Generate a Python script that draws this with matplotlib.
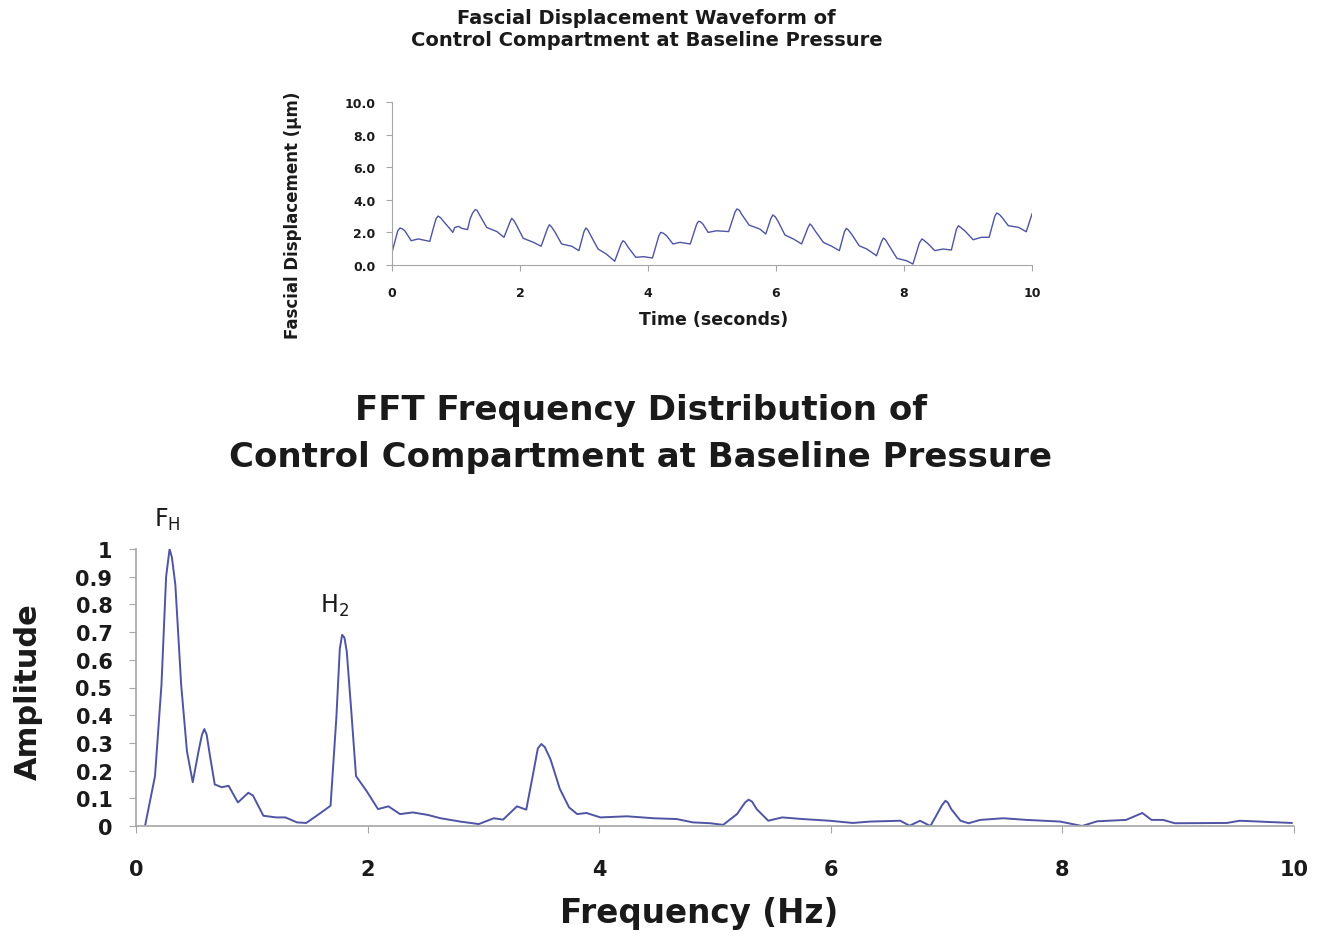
import numpy as np
import matplotlib
matplotlib.use('Agg')
import matplotlib.pyplot as plt

plt.rcParams['font.family'] = ['DejaVu Sans']

# 位移波形（时间 s, 位移 µm）
wave_t = [0.0, 0.09, 0.125, 0.16, 0.2, 0.3, 0.41, 0.59, 0.67, 0.69, 0.72, 0.76, 0.8, 0.91,
          0.95, 0.98, 1.04, 1.09, 1.18, 1.22, 1.26, 1.30, 1.33, 1.36, 1.48, 1.64, 1.75,
          1.84, 1.87, 1.90, 1.95, 2.05, 2.21, 2.33, 2.43, 2.46, 2.49, 2.55, 2.65, 2.81,
          2.92, 3.0, 3.03, 3.06, 3.12, 3.22, 3.35, 3.48, 3.58, 3.61, 3.64, 3.69, 3.81,
          3.93, 4.07, 4.17, 4.20, 4.24, 4.29, 4.39, 4.5, 4.66, 4.76, 4.79, 4.82, 4.86,
          4.94, 5.07, 5.26, 5.36, 5.39, 5.43, 5.46, 5.58, 5.75, 5.84, 5.92, 5.95, 5.99,
          6.04, 6.14, 6.27, 6.4, 6.50, 6.53, 6.56, 6.61, 6.74, 6.87, 6.99, 7.07, 7.1,
          7.13, 7.18, 7.3, 7.42, 7.57, 7.65, 7.68, 7.71, 7.76, 7.89, 8.04, 8.14, 8.24,
          8.28, 8.31, 8.38, 8.48, 8.61, 8.74, 8.82, 8.85, 8.88, 8.95, 9.08, 9.21, 9.33,
          9.42, 9.45, 9.49, 9.53, 9.63, 9.79, 9.91, 10.0]
wave_v = [0.78, 2.1, 2.27, 2.22, 2.1, 1.49, 1.6, 1.45, 2.6, 2.85, 3.0, 2.9, 2.7, 2.2,
          2.0, 2.3, 2.37, 2.25, 2.17, 2.82, 3.2, 3.4, 3.35, 3.13, 2.3, 2.05, 1.7,
          2.6, 2.86, 2.75, 2.41, 1.64, 1.39, 1.15, 2.25, 2.47, 2.35, 2.0, 1.29, 1.15,
          0.88, 2.05, 2.27, 2.15, 1.7, 0.98, 0.67, 0.23, 1.3, 1.49, 1.4, 1.09, 0.47,
          0.51, 0.43, 1.8, 2.0, 1.95, 1.8, 1.29, 1.39, 1.29, 2.5, 2.68, 2.65, 2.5,
          2.0, 2.1, 2.05, 3.25, 3.44, 3.35, 3.13, 2.45, 2.2, 1.9, 2.85, 3.07, 2.95,
          2.62, 1.84, 1.6, 1.29, 2.3, 2.52, 2.4, 2.1, 1.39, 1.15, 0.88, 2.05, 2.25,
          2.15, 1.9, 1.18, 0.98, 0.57, 1.45, 1.66, 1.55, 1.23, 0.41, 0.26, 0.06, 1.35,
          1.6, 1.52, 1.29, 0.88, 0.98, 0.92, 2.2, 2.41, 2.32, 2.1, 1.55, 1.7, 1.7,
          3.0, 3.19, 3.1, 2.93, 2.41, 2.31, 2.04, 3.13]

# FFT 频谱（频率 Hz, 幅值）
fft_f = [0.078, 0.164, 0.22, 0.26, 0.29, 0.31, 0.34, 0.39, 0.44, 0.49, 0.54, 0.57, 0.59,
         0.61, 0.64, 0.68, 0.74, 0.80, 0.88, 0.97, 1.01, 1.10, 1.21, 1.29, 1.39, 1.47,
         1.56, 1.68, 1.73, 1.76, 1.78, 1.80, 1.82, 1.86, 1.90, 1.99, 2.09, 2.18, 2.28,
         2.39, 2.52, 2.63, 2.80, 2.96, 3.09, 3.17, 3.29, 3.37, 3.43, 3.47, 3.50, 3.53,
         3.58, 3.66, 3.74, 3.81, 3.89, 4.01, 4.24, 4.47, 4.67, 4.81, 4.96, 5.07, 5.19,
         5.26, 5.29, 5.32, 5.36, 5.46, 5.58, 5.76, 5.99, 6.19, 6.34, 6.60, 6.68, 6.77,
         6.86, 6.91, 6.96, 6.99, 7.01, 7.04, 7.12, 7.19, 7.29, 7.49, 7.69, 7.98, 8.17,
         8.30, 8.55, 8.69, 8.77, 8.87, 8.97, 9.42, 9.53, 9.70, 9.98]
fft_a = [0.0, 0.18, 0.51, 0.9, 1.0, 0.97, 0.87, 0.51, 0.27, 0.158, 0.27, 0.33, 0.35,
         0.33, 0.25, 0.15, 0.14, 0.145, 0.085, 0.12, 0.11, 0.037, 0.031, 0.031, 0.013, 0.011,
         0.037, 0.073, 0.39, 0.64, 0.69, 0.68, 0.63, 0.41, 0.18, 0.127, 0.061, 0.071, 0.043,
         0.049, 0.04, 0.028, 0.016, 0.007, 0.028, 0.023, 0.071, 0.059, 0.19, 0.28, 0.296, 0.285,
         0.24, 0.134, 0.067, 0.043, 0.047, 0.031, 0.035, 0.028, 0.025, 0.013, 0.01, 0.004, 0.043,
         0.085, 0.095, 0.088, 0.061, 0.019, 0.031, 0.025, 0.019, 0.011, 0.016, 0.019, 0.001, 0.019,
         0.0, 0.037, 0.075, 0.091, 0.085, 0.061, 0.019, 0.01, 0.022, 0.028, 0.022, 0.016, 0.0,
         0.017, 0.022, 0.047, 0.022, 0.022, 0.01, 0.011, 0.019, 0.016, 0.011]

line_c = '#4f54a3'
axis_c = '#a6a6a6'
text_c = '#1a1a1a'

fig = plt.figure(figsize=(13.26, 9.37), dpi=100)

# 上图：位移波形
ax1 = fig.add_axes([392/1326, 1-266/937, 640/1326, 163/937])
ax1.plot(wave_t, wave_v, color=line_c, lw=1.0, solid_joinstyle='round')
ax1.set_xlim(0, 10)
ax1.set_ylim(0, 10)
ax1.set_xticks([0, 2, 4, 6, 8, 10])
ax1.set_yticks([0, 2, 4, 6, 8, 10])
ax1.set_yticklabels(['%.1f' % v for v in [0, 2, 4, 6, 8, 10]])
for s in ['top', 'right']:
    ax1.spines[s].set_visible(False)
for s in ['left', 'bottom']:
    ax1.spines[s].set_color(axis_c)
ax1.tick_params(axis='both', colors=axis_c, labelcolor=text_c, length=4, labelsize=9)
ax1.tick_params(axis='y', pad=8)
ax1.tick_params(axis='x', pad=11)
for lb in ax1.get_xticklabels() + ax1.get_yticklabels():
    lb.set_fontweight('bold')
ax1.set_xlabel('Time (seconds)', fontsize=12.5, fontweight='bold', color=text_c, va='baseline')
ax1.xaxis.set_label_coords(0.502, (266-325)/163)
ax1.set_ylabel('Fascial Displacement (µm)', fontsize=12, fontweight='bold', color=text_c,
               va='center')
ax1.yaxis.set_label_coords((293-392)/640, (266-215)/163)

fig.text(0.4876, 1-24/937, 'Fascial Displacement Waveform of', ha='center', va='baseline',
         fontsize=14, fontweight='bold', color=text_c)
fig.text(0.4876, 1-46/937, 'Control Compartment at Baseline Pressure', ha='center',
         va='baseline', fontsize=14, fontweight='bold', color=text_c)

# 下图：FFT 频谱
ax2 = fig.add_axes([136/1326, 1-827/937, 1158/1326, 277/937])
ax2.plot(fft_f, fft_a, color=line_c, lw=1.4, solid_joinstyle='round')
ax2.set_xlim(0, 10)
ax2.set_ylim(0, 1)
ax2.set_xticks([0, 2, 4, 6, 8, 10])
yt = [round(0.1*i, 1) for i in range(11)]
ax2.set_yticks(yt)
ax2.set_yticklabels(['0'] + ['%.1f' % v for v in yt[1:-1]] + ['1'])
for s in ['top', 'right']:
    ax2.spines[s].set_visible(False)
for s in ['left', 'bottom']:
    ax2.spines[s].set_color(axis_c)
    ax2.spines[s].set_linewidth(1.2)
ax2.tick_params(axis='both', colors=axis_c, labelcolor=text_c, length=5, labelsize=15)
ax2.tick_params(axis='y', pad=12)
ax2.tick_params(axis='x', pad=19)
for lb in ax2.get_xticklabels() + ax2.get_yticklabels():
    lb.set_fontweight('bold')
ax2.set_xlabel('Frequency (Hz)', fontsize=23.5, fontweight='bold', color=text_c, va='baseline')
ax2.xaxis.set_label_coords((699-136)/1158, (827-923)/277)
ax2.set_ylabel('Amplitude', fontsize=22, fontweight='bold', color=text_c, va='center')
ax2.yaxis.set_label_coords((28-136)/1158, (827-692)/277)

ax2.text(0.27, 1.083, r'F$_\mathregular{H}$', ha='center', va='baseline', fontsize=17, color=text_c)
ax2.text(1.71, 0.773, r'H$_\mathregular{2}$', ha='center', va='baseline', fontsize=17, color=text_c)

fig.text(0.4834, 1-420/937, 'FFT Frequency Distribution of', ha='center', va='baseline',
         fontsize=24.5, fontweight='bold', color=text_c)
fig.text(0.4827, 1-466.7/937, 'Control Compartment at Baseline Pressure', ha='center',
         va='baseline', fontsize=24.5, fontweight='bold', color=text_c)

fig.savefig('out.png', dpi=100)
